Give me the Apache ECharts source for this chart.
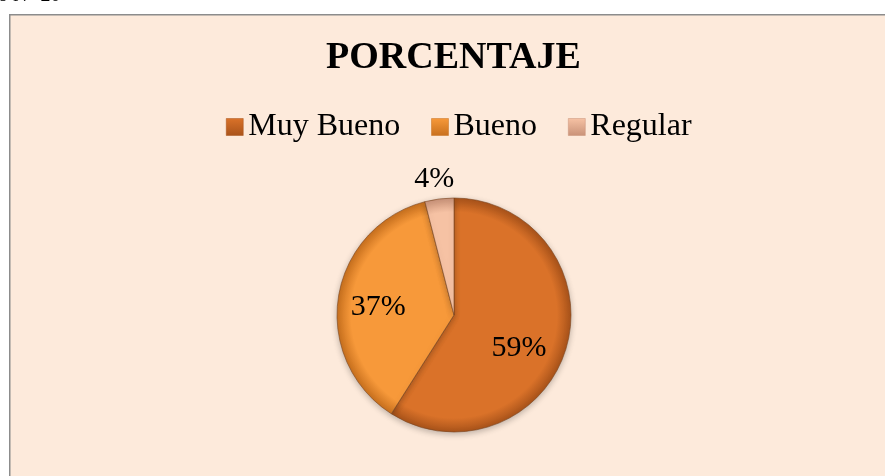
<!DOCTYPE html>
<html>
<head>
<meta charset="utf-8">
<script src="https://cdn.jsdelivr.net/npm/echarts@6/dist/echarts.min.js"></script>
<style>
html,body{margin:0;padding:0;background:#ffffff;}
#main{width:885px;height:476px;}
</style>
</head>
<body>
<div id="main"></div>
<script>
// ---- data ----
const categories = ['Muy Bueno', 'Bueno', 'Regular'];
const values = [59, 37, 4];
const titleText = 'PORCENTAJE';
const captionText = 'o N° 20';
// ---- styles ----
const sliceColors = ['#DA7229', '#F7993A', '#F6C2A4'];
const rimColors = ['#A9531A', '#C8701E', '#C99278'];
const labelOffsets = [[6, 16], [-15, 2], [-12, -75]];

const serif = '"Liberation Serif", "Times New Roman", serif';
const cx = 454, cy = 315, R = 117;

const chart = echarts.init(document.getElementById('main'), null, {renderer: 'canvas'});

const pieData = categories.map((name, i) => ({
  name: name,
  value: values[i],
  itemStyle: {
    color: {
      type: 'radial', x: cx, y: cy, r: R, global: true,
      colorStops: [
        {offset: 0, color: sliceColors[i]},
        {offset: 0.88, color: sliceColors[i]},
        {offset: 1, color: rimColors[i]}
      ]
    }
  },
  label: {offset: labelOffsets[i]}
}));

const legendData = categories.map((name, i) => ({
  name: name,
  itemStyle: {
    color: {
      type: 'linear', x: 0, y: 0, x2: 0, y2: 1,
      colorStops: [
        {offset: 0, color: sliceColors[i]},
        {offset: 1, color: rimColors[i]}
      ]
    },
    borderColor: rimColors[i], borderWidth: 0.5
  }
}));

chart.setOption({
  animation: false,
  backgroundColor: '#ffffff',
  graphic: [
    {
      type: 'rect', left: 9, top: 14, z: -10,
      shape: {width: 900, height: 500},
      style: {fill: '#FDEADB', stroke: '#8c8c8c', lineWidth: 1.5}
    },
    {
      type: 'text', left: -2, top: -14, z: -5,
      style: {text: captionText, font: '20px ' + serif, fill: '#000'}
    }
  ],
  title: {
    text: titleText,
    left: 326,
    top: 39,
    padding: 0,
    textStyle: {fontFamily: serif, fontWeight: 'bold', fontSize: 38, lineHeight: 38, color: '#000'}
  },
  legend: {
    data: legendData,
    left: 226,
    top: 111,
    padding: 0,
    icon: 'rect',
    itemWidth: 17,
    itemHeight: 17,
    itemGap: 31,
    textStyle: {fontFamily: serif, fontSize: 32, lineHeight: 32, color: '#000', padding: [0, 0, 0, 0]},
    selectedMode: false
  },
  series: [{
    type: 'pie',
    center: [cx, cy],
    radius: R,
    startAngle: 90,
    clockwise: true,
    data: pieData,
    itemStyle: {
      borderColor: '#7a4520',
      borderWidth: 0.6,
      shadowBlur: 6,
      shadowColor: 'rgba(0,0,0,0.25)',
      shadowOffsetY: 2
    },
    label: {
      show: true,
      position: 'inside',
      formatter: '{c}%',
      fontFamily: serif,
      fontSize: 30,
      color: '#000'
    },
    labelLine: {show: false},
    emphasis: {disabled: true}
  }]
});
</script>
</body>
</html>
